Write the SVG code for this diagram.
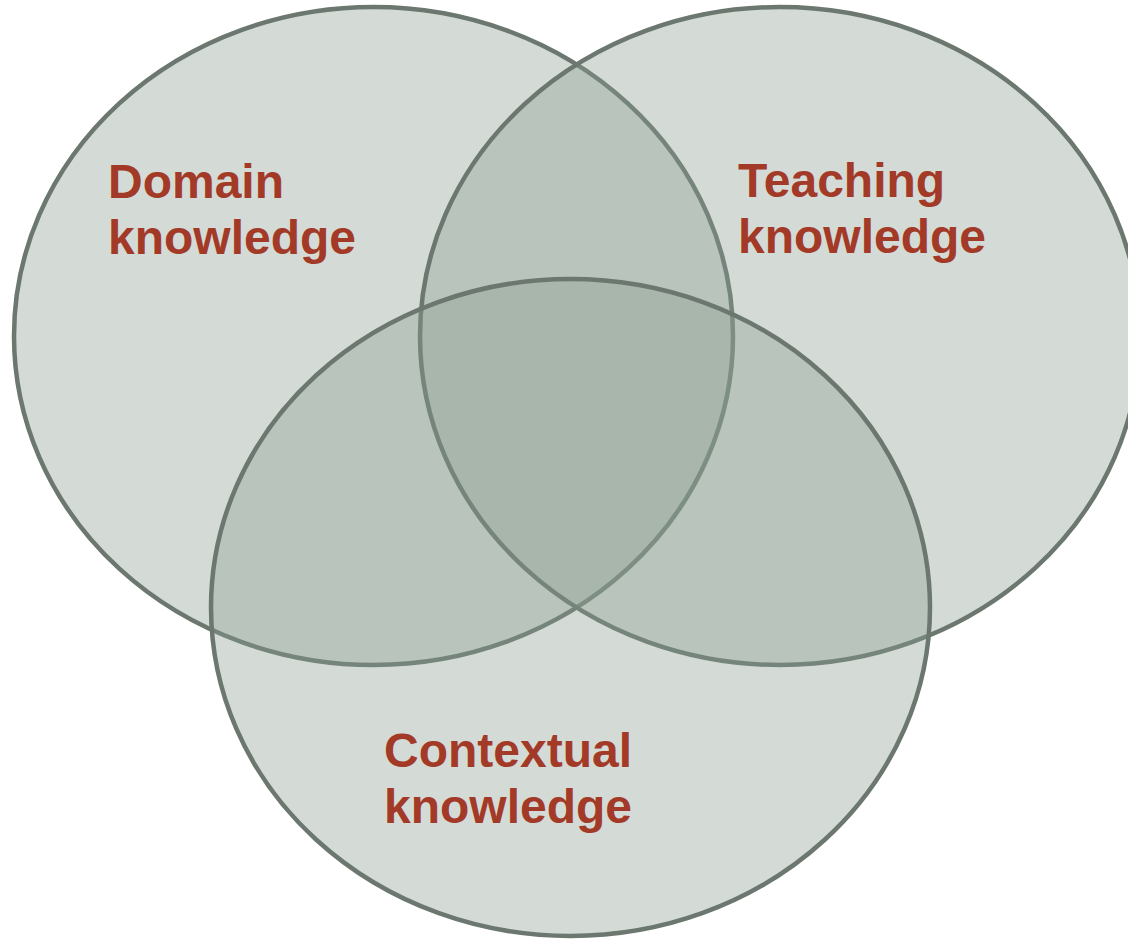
<svg xmlns="http://www.w3.org/2000/svg" width="1128" height="940" viewBox="0 0 1128 940">
  <style>
    .set { fill: rgb(139,156,145); fill-opacity: 0.37; stroke: #6b776f; stroke-width: 4.5; }
    .lbl { font-family: "Liberation Sans", Arial, sans-serif; font-weight: bold; font-size: 48px; fill: #a33a28; }
  </style>
  <rect width="1128" height="940" fill="#ffffff"/>
  <g id="domain">
    <ellipse class="set" cx="373.5" cy="336" rx="359.5" ry="329"/>
  </g>
  <g id="teaching">
    <ellipse class="set" cx="780" cy="336" rx="360" ry="329"/>
  </g>
  <g id="contextual">
    <ellipse class="set" cx="570.5" cy="607.5" rx="359.5" ry="328.5"/>
  </g>
  <g id="labels">
    <text class="lbl" x="108" y="198">Domain</text>
    <text class="lbl" x="108" y="254">knowledge</text>
    <text class="lbl" x="738" y="197">Teaching</text>
    <text class="lbl" x="738" y="253">knowledge</text>
    <text class="lbl" x="384" y="767">Contextual</text>
    <text class="lbl" x="384" y="823">knowledge</text>
  </g>
  <g id="connectors"></g>
</svg>
